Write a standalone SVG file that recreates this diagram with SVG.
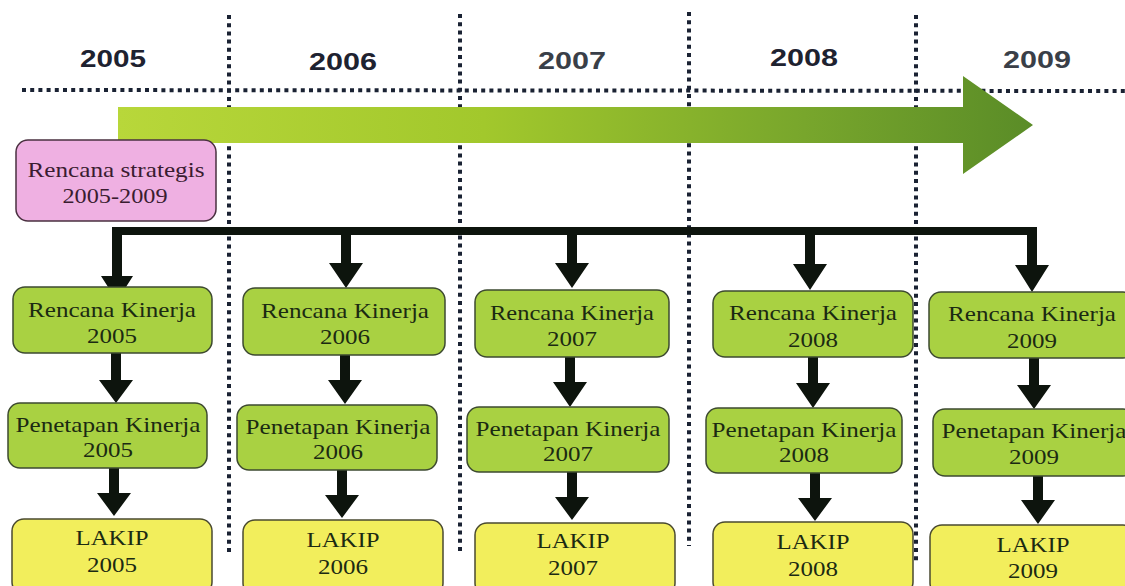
<svg xmlns="http://www.w3.org/2000/svg" width="1125" height="586" viewBox="0 0 1125 586">
<defs>
<linearGradient id="g" gradientUnits="userSpaceOnUse" x1="118" y1="0" x2="1033" y2="0">
<stop offset="0" stop-color="#b8d73a"/>
<stop offset="0.4" stop-color="#a2c82c"/>
<stop offset="0.75" stop-color="#78a62c"/>
<stop offset="1" stop-color="#5a8c27"/>
</linearGradient>
<style>
.yr{font-family:"Liberation Sans",Arial,sans-serif;font-weight:bold;font-size:24px;fill:#1e2230;text-anchor:middle}
.gy{fill:#3a3f48}
.dot{stroke:#1a2233;stroke-width:4;stroke-dasharray:4 4.2;fill:none}
.g{fill:#a9d142;stroke:#3d4a30;stroke-width:1.5}
.y{fill:#f2ee5c;stroke:#4a4a30;stroke-width:1.5}
.p{fill:#efb0e2;stroke:#4a3040;stroke-width:1.5}
.t{font-family:"Liberation Serif","Times New Roman",serif;font-size:22px;fill:#1b2a12;text-anchor:middle}
.tp{fill:#3a1c30}
.ar{fill:#0d140d}
</style>
</defs>
<rect width="1125" height="586" fill="#ffffff"/>

<g id="grid">
<line class="dot" x1="22" y1="90" x2="1125" y2="91"/>
<line class="dot" x1="229" y1="15" x2="229" y2="553"/>
<line class="dot" x1="460" y1="14" x2="460" y2="555"/>
<line class="dot" x1="689" y1="12" x2="689" y2="546"/>
<line class="dot" x1="916" y1="15" x2="916" y2="562"/>
</g>

<g id="years">
<text class="yr" x="113" y="67" textLength="66" lengthAdjust="spacingAndGlyphs">2005</text>
<text class="yr" x="343" y="70" textLength="68" lengthAdjust="spacingAndGlyphs">2006</text>
<text class="yr gy" x="572" y="69" textLength="68" lengthAdjust="spacingAndGlyphs">2007</text>
<text class="yr" x="804" y="66" textLength="68" lengthAdjust="spacingAndGlyphs">2008</text>
<text class="yr gy" x="1037" y="68" textLength="68" lengthAdjust="spacingAndGlyphs">2009</text>
</g>

<g id="timeline-arrow">
<path d="M118 107 H963 V76 L1033 125 L963 174 V143 H118 Z" fill="url(#g)"/>
</g>

<g id="connectors">
<path class="ar" d="M113 227 H1037 V265 H1049 L1032 292 L1015 265 H1027 V235 H122 V276 H133 L117 301 L101 276 H112 V227 Z"/>
<polygon class="ar" points="341,235 351,235 351,263 363,263 346,288 329,263 341,263"/>
<polygon class="ar" points="567,235 577,235 577,263 589,263 572,288 555,263 567,263"/>
<polygon class="ar" points="805,235 815,235 815,264 827,264 810,290 793,264 805,264"/>
<polygon class="ar" points="111,353 121,353 121,380 133,380 116,403 99,380 111,380"/>
<polygon class="ar" points="340,355 350,355 350,380 362,380 345,404 328,380 340,380"/>
<polygon class="ar" points="565,357 575,357 575,382 587,382 570,407 553,382 565,382"/>
<polygon class="ar" points="808,357 818,357 818,383 830,383 813,408 796,383 808,383"/>
<polygon class="ar" points="1029,358 1039,358 1039,385 1051,385 1034,409 1017,385 1029,385"/>
<polygon class="ar" points="109,468 119,468 119,493 131,493 114,516 97,493 109,493"/>
<polygon class="ar" points="337,470 347,470 347,495 359,495 342,518 325,495 337,495"/>
<polygon class="ar" points="567,472 577,472 577,497 589,497 572,520 555,497 567,497"/>
<polygon class="ar" points="810,473 820,473 820,498 832,498 815,521 798,498 810,498"/>
<polygon class="ar" points="1033,476 1043,476 1043,500 1055,500 1038,524 1021,500 1033,500"/>
</g>

<g id="rencana-strategis">
<rect class="p" x="16" y="140" width="200" height="81" rx="12"/>
<text class="t tp" x="116" y="177" textLength="177" lengthAdjust="spacingAndGlyphs">Rencana strategis</text>
<text class="t tp" x="115" y="203" textLength="105" lengthAdjust="spacingAndGlyphs">2005-2009</text>
</g>

<g id="rk2005">
<rect class="g" x="13" y="287" width="199" height="66" rx="12"/>
<text class="t" x="112" y="317" textLength="168" lengthAdjust="spacingAndGlyphs">Rencana Kinerja</text>
<text class="t" x="112" y="343" textLength="50" lengthAdjust="spacingAndGlyphs">2005</text>
</g>
<g id="pk2005">
<rect class="g" x="8" y="403" width="199" height="65" rx="12"/>
<text class="t" x="108" y="432" textLength="185" lengthAdjust="spacingAndGlyphs">Penetapan Kinerja</text>
<text class="t" x="108" y="457" textLength="50" lengthAdjust="spacingAndGlyphs">2005</text>
</g>
<g id="lakip2005">
<rect class="y" x="12" y="519" width="200" height="75" rx="12"/>
<text class="t" x="112" y="545" textLength="73" lengthAdjust="spacingAndGlyphs">LAKIP</text>
<text class="t" x="112" y="572" textLength="50" lengthAdjust="spacingAndGlyphs">2005</text>
</g>

<g id="rk2006">
<rect class="g" x="243" y="288" width="202" height="67" rx="12"/>
<text class="t" x="345" y="318" textLength="168" lengthAdjust="spacingAndGlyphs">Rencana Kinerja</text>
<text class="t" x="345" y="344" textLength="50" lengthAdjust="spacingAndGlyphs">2006</text>
</g>
<g id="pk2006">
<rect class="g" x="237" y="405" width="200" height="65" rx="12"/>
<text class="t" x="338" y="434" textLength="185" lengthAdjust="spacingAndGlyphs">Penetapan Kinerja</text>
<text class="t" x="338" y="459" textLength="50" lengthAdjust="spacingAndGlyphs">2006</text>
</g>
<g id="lakip2006">
<rect class="y" x="243" y="520" width="200" height="75" rx="12"/>
<text class="t" x="343" y="547" textLength="73" lengthAdjust="spacingAndGlyphs">LAKIP</text>
<text class="t" x="343" y="574" textLength="50" lengthAdjust="spacingAndGlyphs">2006</text>
</g>

<g id="rk2007">
<rect class="g" x="475" y="290" width="194" height="67" rx="12"/>
<text class="t" x="572" y="320" textLength="164" lengthAdjust="spacingAndGlyphs">Rencana Kinerja</text>
<text class="t" x="572" y="346" textLength="50" lengthAdjust="spacingAndGlyphs">2007</text>
</g>
<g id="pk2007">
<rect class="g" x="467" y="407" width="202" height="65" rx="12"/>
<text class="t" x="568" y="436" textLength="185" lengthAdjust="spacingAndGlyphs">Penetapan Kinerja</text>
<text class="t" x="568" y="461" textLength="50" lengthAdjust="spacingAndGlyphs">2007</text>
</g>
<g id="lakip2007">
<rect class="y" x="475" y="523" width="200" height="72" rx="12"/>
<text class="t" x="573" y="548" textLength="73" lengthAdjust="spacingAndGlyphs">LAKIP</text>
<text class="t" x="573" y="575" textLength="50" lengthAdjust="spacingAndGlyphs">2007</text>
</g>

<g id="rk2008">
<rect class="g" x="713" y="291" width="200" height="66" rx="12"/>
<text class="t" x="813" y="320" textLength="168" lengthAdjust="spacingAndGlyphs">Rencana Kinerja</text>
<text class="t" x="813" y="347" textLength="50" lengthAdjust="spacingAndGlyphs">2008</text>
</g>
<g id="pk2008">
<rect class="g" x="706" y="408" width="196" height="65" rx="12"/>
<text class="t" x="804" y="437" textLength="185" lengthAdjust="spacingAndGlyphs">Penetapan Kinerja</text>
<text class="t" x="804" y="462" textLength="50" lengthAdjust="spacingAndGlyphs">2008</text>
</g>
<g id="lakip2008">
<rect class="y" x="713" y="522" width="200" height="72" rx="12"/>
<text class="t" x="813" y="549" textLength="73" lengthAdjust="spacingAndGlyphs">LAKIP</text>
<text class="t" x="813" y="576" textLength="50" lengthAdjust="spacingAndGlyphs">2008</text>
</g>

<g id="rk2009">
<rect class="g" x="929" y="292" width="206" height="66" rx="12"/>
<text class="t" x="1032" y="321" textLength="168" lengthAdjust="spacingAndGlyphs">Rencana Kinerja</text>
<text class="t" x="1032" y="348" textLength="50" lengthAdjust="spacingAndGlyphs">2009</text>
</g>
<g id="pk2009">
<rect class="g" x="933" y="409" width="202" height="67" rx="12"/>
<text class="t" x="1034" y="438" textLength="185" lengthAdjust="spacingAndGlyphs">Penetapan Kinerja</text>
<text class="t" x="1034" y="464" textLength="50" lengthAdjust="spacingAndGlyphs">2009</text>
</g>
<g id="lakip2009">
<rect class="y" x="930" y="525" width="205" height="70" rx="12"/>
<text class="t" x="1033" y="552" textLength="73" lengthAdjust="spacingAndGlyphs">LAKIP</text>
<text class="t" x="1033" y="578" textLength="50" lengthAdjust="spacingAndGlyphs">2009</text>
</g>
</svg>
